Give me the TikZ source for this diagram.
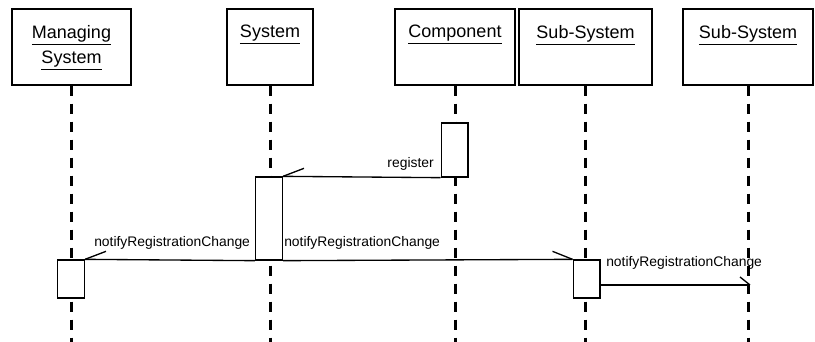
\documentclass[tikz,border=0pt]{standalone}
\usepackage{fontspec}
\setmainfont{Liberation Sans}

\begin{document}
\begin{tikzpicture}[x=0.75pt, y=-0.75pt]
    \tikzstyle{every node}+=[inner sep=0pt]
    \tikzstyle{objbox}=[draw=black, line width=1pt, rectangle, minimum height=57pt]
    \tikzstyle{objtitle}=[anchor=north, align=center, font=\fontsize{13.5}{18.75}\selectfont]
    \tikzstyle{lifeline}=[black, line width=2.25pt, dash pattern=on 7.5pt off 6pt]
    \tikzstyle{actbox}=[draw=black, fill=white, line width=1pt, rectangle, minimum width=20pt]
    \tikzstyle{msg}=[black, line width=1pt]
    \tikzstyle{msglabel}=[font=\fontsize{10.4}{12}\selectfont]
    \useasboundingbox (0,0) rectangle (815,342);
    \coordinate (bottom) at (0,342);
    % objects
    \node [objbox, minimum width=89.25pt] (ms) at (71.5,47) {};
    \node [objtitle] (tms) at (71.5,25) {\underline{Managing}\\\underline{System}};
    \node [objbox, minimum width=64.5pt] (sys) at (270,47) {};
    \node [objtitle] (tsys) at (270,25) {\underline{System}};
    \node [objbox, minimum width=90pt] (comp) at (455,47) {};
    \node [objtitle] (tcomp) at (455,25) {\underline{Component}};
    \node [objbox, minimum width=99.75pt] (sub1) at (585.5,47) {};
    \node [objtitle] (tsub1) at (585.5,25) {\underline{Sub-System}};
    \node [objbox, minimum width=97.5pt] (sub2) at (748,47) {};
    \node [objtitle] (tsub2) at (748,25) {\underline{Sub-System}};
    % lifelines
    \draw [lifeline] (ms.south) -- (ms.south |- bottom);
    \draw [lifeline] (sys.south) -- (sys.south |- bottom);
    \draw [lifeline] (comp.south) -- (comp.south |- bottom);
    \draw [lifeline] (sub1.south) -- (sub1.south |- bottom);
    \draw [lifeline] (sub2.south) -- (sub2.south |- bottom);
    % activations
    \node [actbox, minimum height=40.5pt] (compact) at (454.5,150) {};
    \node [actbox, minimum height=62.25pt] (sysact) at (269,218.5) {};
    \node [actbox, minimum height=28.5pt] (msact) at (71,279) {};
    \node [actbox, minimum height=28.5pt] (subact) at (586.5,279) {};
    % messages
    \draw [msg] (compact.south west) -- (sysact.north east);
    \draw [msg] (sysact.north east) -- ++(21,-8);
    \node [msglabel, anchor=base east] (lreg) at (434,168) {register};
    \draw [msg] (sysact.south west) -- (msact.north east);
    \draw [msg] (msact.north east) -- ++(21,-8);
    \node [msglabel, anchor=base west] (lnotms) at (94,247) {notifyRegistrationChange};
    \draw [msg] (sysact.south east) -- (subact.north west);
    \draw [msg] (subact.north west) -- ++(-20,-8);
    \node [msglabel, anchor=base west] (lnotsub) at (284,247) {notifyRegistrationChange};
    \coordinate (subend) at (750,285);
    \draw [msg] (subact.east |- subend) -- (subend);
    \draw [msg] (subend) -- ++(-10,-8);
    \node [msglabel, anchor=base west] (lnotsub2) at (606,267) {notifyRegistrationChange};
\end{tikzpicture}
\end{document}
